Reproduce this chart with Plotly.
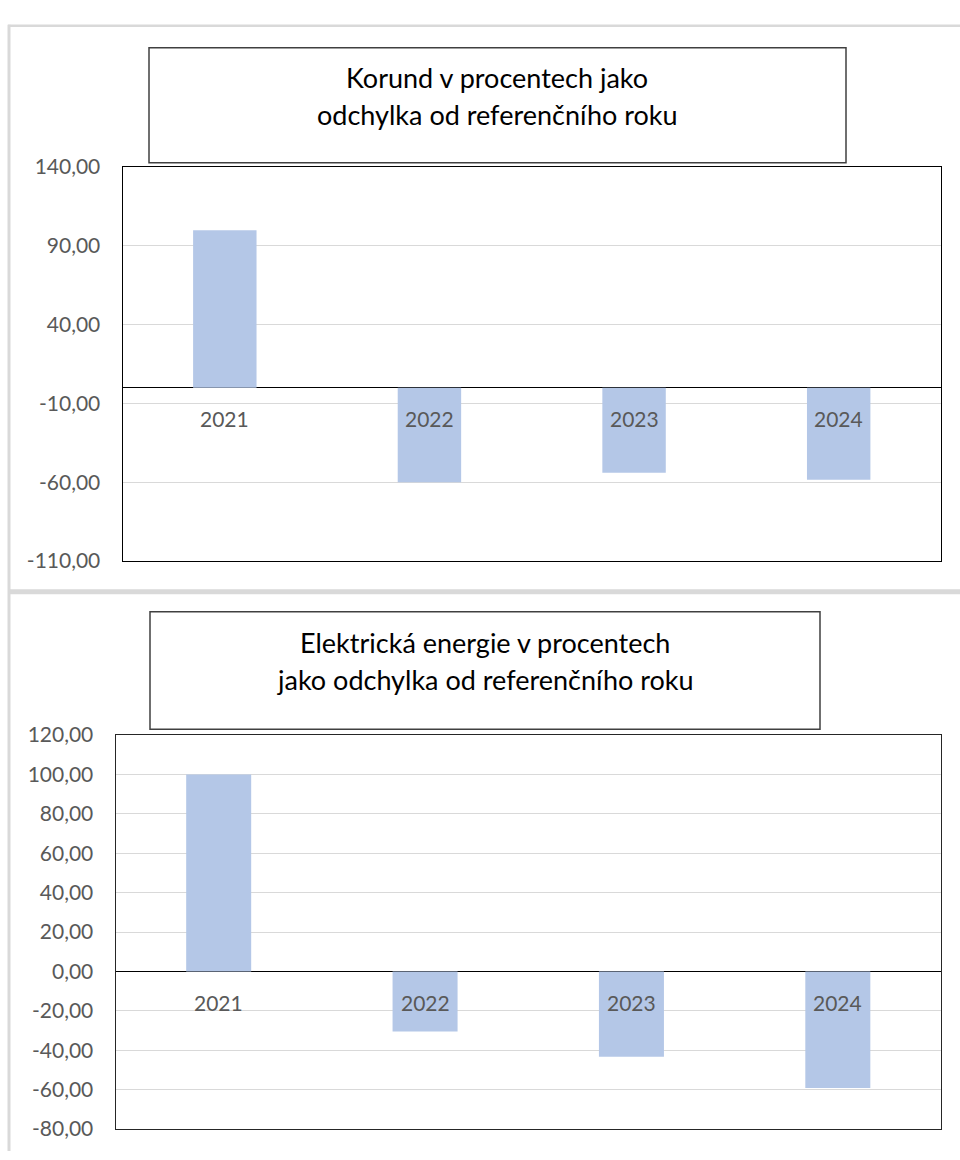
import plotly.graph_objects as go

W, H = 960, 1160

# ---------------- data ----------------
years = ["2021", "2022", "2023", "2024"]

korund_values = [100.0, -60.0, -54.0, -58.5]
korund_tickvals = [-110, -60, -10, 40, 90, 140]
korund_ticktext = ["-110,00", "-60,00", "-10,00", "40,00", "90,00", "140,00"]
korund_title = ["Korund v procentech jako", "odchylka od referenčního roku"]

energie_values = [100.0, -30.5, -43.3, -59.2]
energie_tickvals = [-80, -60, -40, -20, 0, 20, 40, 60, 80, 100, 120]
energie_ticktext = ["-80,00", "-60,00", "-40,00", "-20,00", "0,00", "20,00",
                    "40,00", "60,00", "80,00", "100,00", "120,00"]
energie_title = ["Elektrická energie v procentech", "jako odchylka od referenčního roku"]

# ---------------- helpers ----------------
def px(x):
    return x / W

def py(y):
    return 1 - y / H

FONT = "Lato"
BAR_COLOR = "#b4c7e7"
TICK_COLOR = "#595959"
GRID_COLOR = "#d9d9d9"
FRAME_COLOR = "#d9d9d9"

fig = go.Figure()

fig.add_trace(go.Bar(x=years, y=korund_values, marker=dict(color=BAR_COLOR, line=dict(width=0)),
                     width=0.31, xaxis="x", yaxis="y", showlegend=False, hoverinfo="x+y"))
fig.add_trace(go.Bar(x=years, y=energie_values, marker=dict(color=BAR_COLOR, line=dict(width=0)),
                     width=0.315, xaxis="x2", yaxis="y2", showlegend=False, hoverinfo="x+y"))

xcommon = dict(type="category", range=[-0.5, 3.5], showgrid=False, showticklabels=False,
               ticks="", showline=True, mirror=True, linewidth=1, zeroline=False, fixedrange=True)
ycommon = dict(showgrid=True, gridcolor=GRID_COLOR, gridwidth=1, showline=True, mirror=True,
               linewidth=1, zeroline=True, zerolinecolor="#000000", zerolinewidth=1,
               ticks="", ticklabelstandoff=17,
               tickfont=dict(family=FONT, size=21, color=TICK_COLOR), fixedrange=True)

fig.update_layout(
    width=W, height=H, autosize=False,
    margin=dict(l=0, r=0, t=0, b=0),
    paper_bgcolor="white", plot_bgcolor="white",
    barmode="group",
    xaxis=dict(xcommon, domain=[px(122.5), px(941)], anchor="y", linecolor="#000000"),
    yaxis=dict(ycommon, domain=[py(559), py(156.5)], anchor="x", range=[-110, 140],
               tickmode="array", tickvals=korund_tickvals, ticktext=korund_ticktext,
               linecolor="#000000"),
    xaxis2=dict(xcommon, domain=[px(115.5), px(941)], anchor="y2", linecolor="#262626"),
    yaxis2=dict(ycommon, domain=[py(1139.5), py(737)], anchor="x2", range=[-80, 120],
                tickmode="array", tickvals=energie_tickvals, ticktext=energie_ticktext,
                linecolor="#262626"),
)

shapes = []
# outer light-grey frames
shapes.append(dict(type="line", xref="paper", yref="paper", x0=px(8), x1=px(962), y0=py(12), y1=py(12),
                   line=dict(color=FRAME_COLOR, width=2.5)))
shapes.append(dict(type="line", xref="paper", yref="paper", x0=px(9), x1=px(9), y0=py(11), y1=py(1162),
                   line=dict(color=FRAME_COLOR, width=3)))
shapes.append(dict(type="rect", xref="paper", yref="paper", x0=px(9), x1=px(962), y0=py(593), y1=py(588),
                   line=dict(width=0), fillcolor=FRAME_COLOR))
# title boxes
shapes.append(dict(type="rect", xref="paper", yref="paper", x0=px(149), x1=px(846), y0=py(152), y1=py(34.5),
                   line=dict(color="#404040", width=1.5), fillcolor="rgba(0,0,0,0)"))
shapes.append(dict(type="rect", xref="paper", yref="paper", x0=px(150), x1=px(820), y0=py(731), y1=py(611),
                   line=dict(color="#404040", width=1.5), fillcolor="rgba(0,0,0,0)"))

annotations = []
# titles (one annotation per line)
for text, yc in zip(korund_title, [65, 103]):
    annotations.append(dict(text=text, xref="paper", yref="paper", x=px(497.5), y=py(yc),
                            xanchor="center", yanchor="middle", showarrow=False,
                            font=dict(family=FONT, size=27, color="#000000")))
for text, yc in zip(energie_title, [642, 680]):
    annotations.append(dict(text=text, xref="paper", yref="paper", x=px(485), y=py(yc),
                            xanchor="center", yanchor="middle", showarrow=False,
                            font=dict(family=FONT, size=27, color="#000000")))
# category labels sitting just under the zero line
for xr, yr in [("x", "y"), ("x2", "y2")]:
    for i, yv in enumerate(years):
        annotations.append(dict(text=yv, x=i, y=0, xref=xr, yref=yr, xanchor="center",
                                yanchor="middle", yshift=-31, showarrow=False,
                                font=dict(family=FONT, size=21, color=TICK_COLOR)))

fig.update_layout(shapes=shapes, annotations=annotations)

fig.write_html(
    "out.html",
    config={"displayModeBar": False, "staticPlot": True},
    post_script=("document.documentElement.style.margin='0';"
                 "document.body.style.margin='0';"
                 "document.body.style.overflow='hidden';"
                 "var gd=document.querySelector('.plotly-graph-div');"
                 "gd.style.position='fixed';gd.style.top='0px';gd.style.left='0px';"),
)
